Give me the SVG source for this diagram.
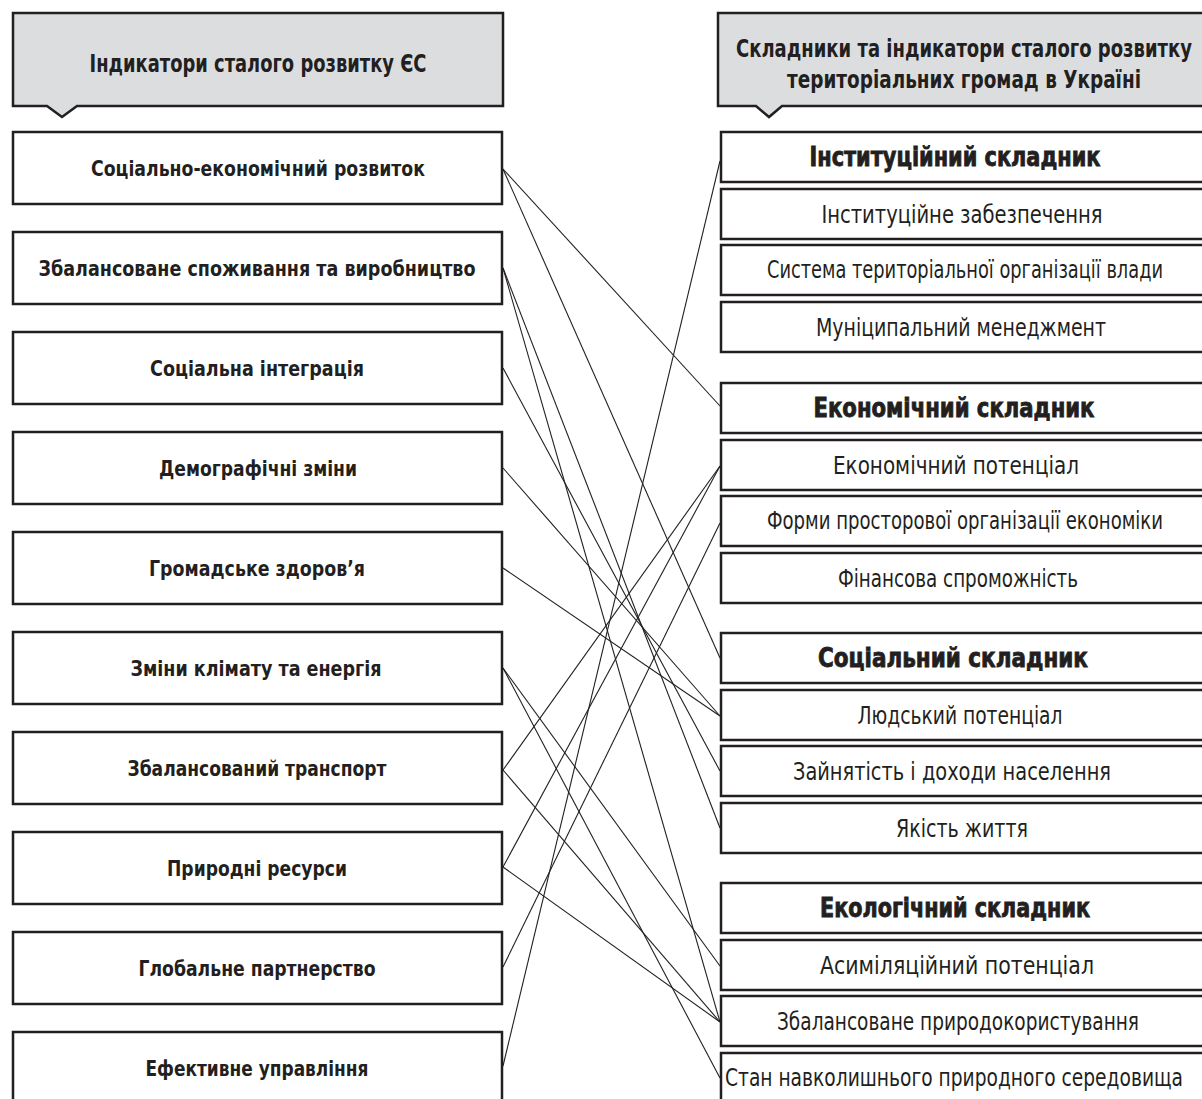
<svg xmlns="http://www.w3.org/2000/svg" width="1202" height="1099" viewBox="0 0 1202 1099">
<style>
.box{fill:#fff;stroke:#231f20;stroke-width:2.5}
.hdr{fill:#dcdddf;stroke:#231f20;stroke-width:2.5}
.conn line{stroke:#231f20;stroke-width:1.1}
text{font-family:"Liberation Sans Narrow","DejaVu Sans Condensed","Noto Sans",sans-serif;fill:#231f20;text-anchor:middle}
.lb{font-size:22px;font-weight:700}
.hd{font-size:24px;font-weight:700}
.hds{font-size:20px;font-weight:700}
.rb{font-size:26px;font-weight:900;stroke:#231f20;stroke-width:0.8}
.rp{font-size:24px;font-weight:400}
.rps{font-size:20px;font-weight:400}
</style>
<rect width="1202" height="1099" fill="#fff"/>

<!-- headers -->
<g id="hdr-left">
<path class="hdr" d="M13,13 H503 V106 H77 L62,117 L47,106 H13 Z"/>
<text class="hd" x="258" y="72" textLength="337" lengthAdjust="spacingAndGlyphs">Індикатори сталого розвитку ЄС</text>
</g>
<g id="hdr-right">
<path class="hdr" d="M1203,13 H718 V106 H756 L769,117 L782,106 H1203"/>
<g transform="scale(1,1.2)">
<text class="hds" x="964" y="47.5" textLength="456" lengthAdjust="spacingAndGlyphs">Складники та індикатори сталого розвитку</text>
<text class="hds" x="964" y="73.33" textLength="354" lengthAdjust="spacingAndGlyphs">територіальних громад в Україні</text>
</g>
</g>

<!-- connectors -->
<g id="connectors" class="conn">
<line x1="503" y1="169" x2="720" y2="406"/>
<line x1="503" y1="169" x2="720" y2="658"/>
<line x1="503" y1="268" x2="720" y2="828"/>
<line x1="503" y1="268" x2="720" y2="1022"/>
<line x1="503" y1="368" x2="720" y2="771"/>
<line x1="503" y1="468" x2="720" y2="716"/>
<line x1="503" y1="568" x2="720" y2="716"/>
<line x1="503" y1="668" x2="720" y2="966"/>
<line x1="503" y1="668" x2="720" y2="1078"/>
<line x1="503" y1="770" x2="720" y2="466"/>
<line x1="503" y1="770" x2="720" y2="1022"/>
<line x1="503" y1="867" x2="720" y2="466"/>
<line x1="503" y1="867" x2="720" y2="1022"/>
<line x1="503" y1="967" x2="720" y2="523"/>
<line x1="503" y1="1066" x2="720" y2="161"/>
</g>

<!-- left nodes -->
<g id="l1"><rect class="box" x="13" y="132" width="489" height="72"/><text class="lb" x="258" y="176" textLength="334" lengthAdjust="spacingAndGlyphs">Соціально-економічний розвиток</text></g>
<g id="l2"><rect class="box" x="13" y="232" width="489" height="72"/><text class="lb" x="257" y="276" textLength="437" lengthAdjust="spacingAndGlyphs">Збалансоване споживання та виробництво</text></g>
<g id="l3"><rect class="box" x="13" y="332" width="489" height="72"/><text class="lb" x="257" y="376" textLength="214" lengthAdjust="spacingAndGlyphs">Соціальна інтеграція</text></g>
<g id="l4"><rect class="box" x="13" y="432" width="489" height="72"/><text class="lb" x="258" y="476" textLength="198" lengthAdjust="spacingAndGlyphs">Демографічні зміни</text></g>
<g id="l5"><rect class="box" x="13" y="532" width="489" height="72"/><text class="lb" x="257" y="576" textLength="216" lengthAdjust="spacingAndGlyphs">Громадське здоров’я</text></g>
<g id="l6"><rect class="box" x="13" y="632" width="489" height="72"/><text class="lb" x="256" y="676" textLength="251" lengthAdjust="spacingAndGlyphs">Зміни клімату та енергія</text></g>
<g id="l7"><rect class="box" x="13" y="732" width="489" height="72"/><text class="lb" x="257" y="776" textLength="259" lengthAdjust="spacingAndGlyphs">Збалансований транспорт</text></g>
<g id="l8"><rect class="box" x="13" y="832" width="489" height="72"/><text class="lb" x="257" y="876" textLength="180" lengthAdjust="spacingAndGlyphs">Природні ресурси</text></g>
<g id="l9"><rect class="box" x="13" y="932" width="489" height="72"/><text class="lb" x="257" y="976" textLength="237" lengthAdjust="spacingAndGlyphs">Глобальне партнерство</text></g>
<g id="l10"><path class="box" d="M13,1100 V1032 H502 V1100"/><text class="lb" x="257" y="1076" textLength="223" lengthAdjust="spacingAndGlyphs">Ефективне управління</text></g>

<!-- right nodes: institutional -->
<g id="r-inst"><path class="box" d="M1203,132 H721 V182 H1203"/><text class="rb" x="955" y="166" textLength="291" lengthAdjust="spacingAndGlyphs">Інституційний складник</text></g>
<g id="r-inst1"><path class="box" d="M1203,189 H721 V239 H1203"/><text class="rp" x="962" y="222.5" textLength="281" lengthAdjust="spacingAndGlyphs">Інституційне забезпечення</text></g>
<g id="r-inst2"><path class="box" d="M1203,245 H721 V295 H1203"/><text class="rps" transform="scale(1,1.2)" x="965" y="232.08" textLength="396" lengthAdjust="spacingAndGlyphs">Система територіальної організації влади</text></g>
<g id="r-inst3"><path class="box" d="M1203,302 H721 V352 H1203"/><text class="rp" x="961" y="335.5" textLength="290" lengthAdjust="spacingAndGlyphs">Муніципальний менеджмент</text></g>

<!-- economic -->
<g id="r-eco"><path class="box" d="M1203,383 H721 V433 H1203"/><text class="rb" x="954" y="417" textLength="281" lengthAdjust="spacingAndGlyphs">Економічний складник</text></g>
<g id="r-eco1"><path class="box" d="M1203,440 H721 V490 H1203"/><text class="rp" x="956" y="473.5" textLength="246" lengthAdjust="spacingAndGlyphs">Економічний потенціал</text></g>
<g id="r-eco2"><path class="box" d="M1203,496 H721 V546 H1203"/><text class="rps" transform="scale(1,1.2)" x="965" y="441.25" textLength="396" lengthAdjust="spacingAndGlyphs">Форми просторової організації економіки</text></g>
<g id="r-eco3"><path class="box" d="M1203,553 H721 V603 H1203"/><text class="rp" x="958" y="586.5" textLength="240" lengthAdjust="spacingAndGlyphs">Фінансова спроможність</text></g>

<!-- social -->
<g id="r-soc"><path class="box" d="M1203,633 H721 V683 H1203"/><text class="rb" x="953" y="667" textLength="270" lengthAdjust="spacingAndGlyphs">Соціальний складник</text></g>
<g id="r-soc1"><path class="box" d="M1203,690 H721 V740 H1203"/><text class="rp" x="960" y="723.5" textLength="205" lengthAdjust="spacingAndGlyphs">Людський потенціал</text></g>
<g id="r-soc2"><path class="box" d="M1203,746 H721 V796 H1203"/><text class="rp" x="952" y="779.5" textLength="318" lengthAdjust="spacingAndGlyphs">Зайнятість і доходи населення</text></g>
<g id="r-soc3"><path class="box" d="M1203,803 H721 V853 H1203"/><text class="rp" x="962" y="836.5" textLength="132" lengthAdjust="spacingAndGlyphs">Якість життя</text></g>

<!-- ecological -->
<g id="r-env"><path class="box" d="M1203,883 H721 V933 H1203"/><text class="rb" x="955" y="917" textLength="270" lengthAdjust="spacingAndGlyphs">Екологічний складник</text></g>
<g id="r-env1"><path class="box" d="M1203,940 H721 V990 H1203"/><text class="rp" x="957" y="973.5" textLength="274" lengthAdjust="spacingAndGlyphs">Асиміляційний потенціал</text></g>
<g id="r-env2"><path class="box" d="M1203,996 H721 V1046 H1203"/><text class="rp" x="958" y="1029.5" textLength="362" lengthAdjust="spacingAndGlyphs">Збалансоване природокористування</text></g>
<g id="r-env3"><path class="box" d="M1203,1053 H721 V1103 H1203"/><text class="rps" transform="scale(1,1.2)" x="954" y="905.42" textLength="458" lengthAdjust="spacingAndGlyphs">Стан навколишнього природного середовища</text></g>
</svg>
